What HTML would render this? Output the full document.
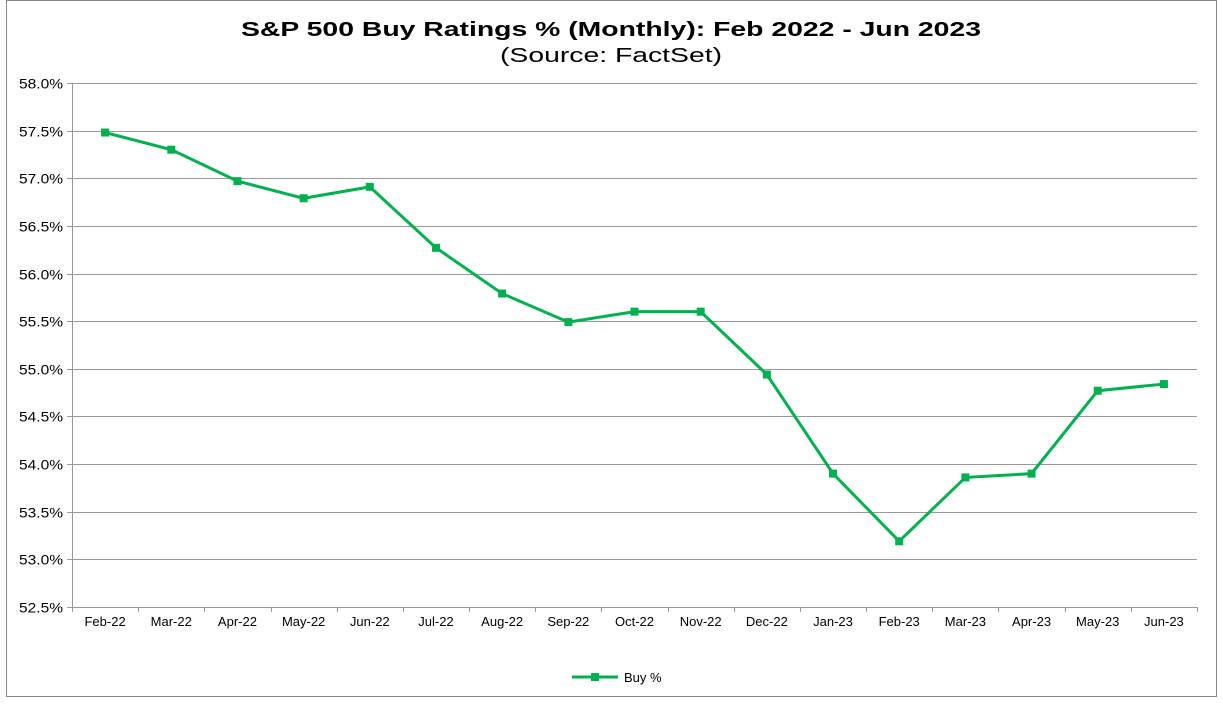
<!DOCTYPE html><html><head><style>body{margin:0;background:#fff}</style></head><body>
<svg width="1223" height="705" xmlns="http://www.w3.org/2000/svg" font-family="Liberation Sans, Arial, sans-serif">
<rect x="6.5" y="0.5" width="1210" height="696" fill="#fff" stroke="#888" stroke-width="1"/>
<text x="611" y="36" text-anchor="middle" font-size="20" font-weight="bold" textLength="740" lengthAdjust="spacingAndGlyphs">S&amp;P 500 Buy Ratings % (Monthly):  Feb 2022 - Jun 2023</text>
<text x="611" y="62" text-anchor="middle" font-size="20" textLength="222" lengthAdjust="spacingAndGlyphs">(Source: FactSet)</text>
<g id="grid" stroke="#999" stroke-width="1"></g>
<g id="lab" font-size="13" fill="#000"></g>
<polyline id="ln" fill="none" stroke="#00b050" stroke-width="3"/>
<g id="pts" fill="#00b050"></g>
<line x1="572" y1="677" x2="618" y2="677" stroke="#00b050" stroke-width="3"/>
<rect x="591" y="673" width="8" height="8" fill="#00b050"/>
<text x="624" y="682" font-size="13">Buy %</text>
</svg>
<script>
const ns="http://www.w3.org/2000/svg";
function el(t,a,p,txt){const e=document.createElementNS(ns,t);for(const k in a)e.setAttribute(k,a[k]);if(txt)e.textContent=txt;document.getElementById(p).appendChild(e);}
const L=72,R=1197,T=83,B=607;
const Y=v=>T+(58-v)/5.5*(B-T);
for(let i=0;i<=11;i++){const v=58-i*0.5,y=Math.round(Y(v))+0.5;
 el('line',{x1:L,x2:R,y1:y,y2:y},'grid');el('line',{x1:L-5,x2:L,y1:y,y2:y},'grid');
 el('text',{x:L-9,y:y+5,'text-anchor':'end','font-size':14,textLength:44,lengthAdjust:'spacingAndGlyphs'},'lab',v.toFixed(1)+'%');}
el('line',{x1:L+0.5,x2:L+0.5,y1:T,y2:B},'grid');
const cats=["Feb-22","Mar-22","Apr-22","May-22","Jun-22","Jul-22","Aug-22","Sep-22","Oct-22","Nov-22","Dec-22","Jan-23","Feb-23","Mar-23","Apr-23","May-23","Jun-23"];
const vals=[57.48,57.30,56.97,56.79,56.91,56.27,55.79,55.49,55.60,55.60,54.94,53.90,53.19,53.86,53.90,54.77,54.84];
const w=(R-L)/17;let pts=[];
for(let i=0;i<=17;i++){const x=Math.round(L+i*w)+0.5;el('line',{x1:x,x2:x,y1:B,y2:B+5},'grid');}
cats.forEach((c,i)=>{const x=L+w*(i+0.5);el('text',{x:x,y:B+19,'text-anchor':'middle'},'lab',c);
 const y=Y(vals[i]);pts.push(x+','+y);el('rect',{x:x-4,y:y-4,width:8,height:8},'pts');});
document.getElementById('ln').setAttribute('points',pts.join(' '));
</script>
</body></html>
